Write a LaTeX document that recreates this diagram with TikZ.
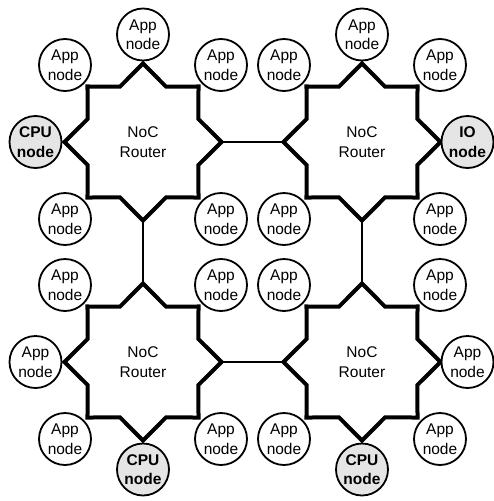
\documentclass[tikz,border=0pt]{standalone}
\usepackage{fontspec}
\setmainfont{Liberation Sans}
\begin{document}
\begin{tikzpicture}[x=1pt,y=-1pt,
  font=\fontsize{15.5}{19.5}\selectfont,
  router/.style={inner sep=0pt, align=center},
  routerline/.style={line width=4pt, line join=miter},
  pe/.style={circle, draw, line width=1.8pt, minimum size=52pt, inner sep=0pt,
    fill=white, align=center},
  special/.style={pe, fill=black!10, font=\fontsize{15.5}{19.5}\selectfont\bfseries},
  link/.style={line width=1.8pt}]
\path[use as bounding box] (0,0) rectangle (494,501);
% routers
\node[router] (r1) at (143,142) {NoC\\Router};
\node[router] (r2) at (362,142) {NoC\\Router};
\node[router] (r3) at (143,362) {NoC\\Router};
\node[router] (r4) at (362,362) {NoC\\Router};
\foreach \r in {r1,r2,r3,r4} {
  \draw[routerline] ([shift={(0:78.5)}]\r.center)
    \foreach \i in {1,...,7} {
      -- ([shift={(\i*45-22.5:60)}]\r.center) -- ([shift={(\i*45:78.5)}]\r.center)
    } -- ([shift={(-22.5:60)}]\r.center) -- cycle;
  \coordinate (\r e) at ([shift={(0:78.5)}]\r.center);
  \coordinate (\r w) at ([shift={(180:78.5)}]\r.center);
  \coordinate (\r n) at ([shift={(0,-78.5)}]\r.center);
  \coordinate (\r s) at ([shift={(0,78.5)}]\r.center);
}
% links between routers
\draw[link] (r1e) -- (r2w);
\draw[link] (r3e) -- (r4w);
\draw[link] (r1s) -- (r3n);
\draw[link] (r2s) -- (r4n);
% router 1 nodes
\node[pe] (a1n) at (143,34.5) {App\\node};
\node[pe] (a1nw) at (65,65) {App\\node};
\node[pe] (a1ne) at (221,65) {App\\node};
\node[special] (c1) at (35.5,142) {CPU\\node};
\node[pe] (a1sw) at (65,219) {App\\node};
\node[pe] (a1se) at (221,219) {App\\node};
% router 2 nodes
\node[pe] (a2n) at (362,34.5) {App\\node};
\node[pe] (a2nw) at (284,65) {App\\node};
\node[pe] (a2ne) at (440,65) {App\\node};
\node[special] (io) at (467.5,142) {IO\\node};
\node[pe] (a2sw) at (284,219) {App\\node};
\node[pe] (a2se) at (440,219) {App\\node};
% router 3 nodes
\node[pe] (a3nw) at (65,285) {App\\node};
\node[pe] (a3ne) at (221,285) {App\\node};
\node[pe] (a3w) at (35.5,362) {App\\node};
\node[pe] (a3sw) at (65,439) {App\\node};
\node[pe] (a3se) at (221,439) {App\\node};
\node[special] (c3) at (143,469.5) {CPU\\node};
% router 4 nodes
\node[pe] (a4nw) at (284,285) {App\\node};
\node[pe] (a4ne) at (440,285) {App\\node};
\node[pe] (a4e) at (467.5,362) {App\\node};
\node[pe] (a4sw) at (284,439) {App\\node};
\node[pe] (a4se) at (440,439) {App\\node};
\node[special] (c4) at (362,469.5) {CPU\\node};
\end{tikzpicture}
\end{document}
